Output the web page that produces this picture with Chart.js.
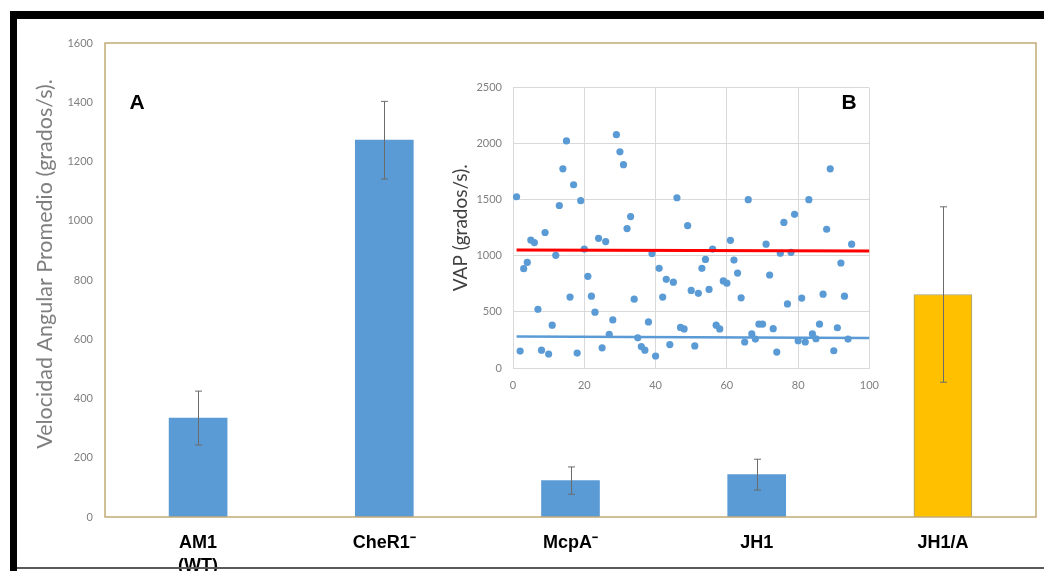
<!DOCTYPE html>
<html>
<head>
<meta charset="utf-8">
<script src="https://cdn.jsdelivr.net/npm/chart.js@4.4.1/dist/chart.umd.min.js"></script>
<style>
  body { margin: 0; background: #fff; }
  #wrap { position: relative; width: 1044px; height: 571px; overflow: hidden; background: #fff; }
  canvas { position: absolute; }
  .frame { position: absolute; background: #000; }
</style>
</head>
<body>
<div id="wrap">
  <canvas id="barChart" width="1044" height="571" style="left:0;top:0"></canvas>
  <canvas id="vapChart" width="450" height="330" style="left:440px;top:70px"></canvas>
  <div class="frame" style="left:10px;top:11px;width:1034px;height:8px"></div>
  <div class="frame" style="left:10px;top:11px;width:7px;height:560px"></div>
  <div style="position:absolute;left:17px;top:567px;width:1027px;height:2px;background:#5a5a5a"></div>
</div>
<script>
// panel A: mean angular velocity per strain
const strains = [['AM1', '(WT)'], 'CheR1⁻', 'McpA⁻', 'JH1', 'JH1/A'];
const meanVelocity = [334, 1272, 123, 143, 751];
const velocityError = [91, 131, 46, 52, 296];
const barColors = ['#5b9bd5', '#5b9bd5', '#5b9bd5', '#5b9bd5', '#ffc000'];
const velocityTicks = [0, 200, 400, 600, 800, 1000, 1200, 1400, 1600];

// panel B: VAP of single cells
const vapValues = [
  1527, 151, 886, 941, 1141, 1118, 524, 159, 1208, 125,
  382, 1005, 1449, 1776, 2025, 632, 1634, 133, 1492, 1060,
  817, 640, 498, 1156, 180, 1127, 301, 429, 2080, 1927,
  1813, 1243, 1350, 614, 269, 191, 159, 411, 1020, 107,
  889, 632, 791, 209, 765, 1518, 362, 348, 1269, 692,
  197, 666, 889, 968, 701, 1060, 382, 348, 776, 756,
  1138, 962, 846, 626, 232, 1501, 304, 258, 391, 391,
  1104, 829, 351, 142, 1023, 1298, 571, 1031, 1370, 243,
  623, 232, 1501, 304, 261, 391, 658, 1237, 1776, 154,
  359, 936, 640, 258, 1104
];
const trendX = [1, 100];
const redTrend = [1052, 1043];
const blueTrend = [281, 267];
const vapTicksY = [0, 500, 1000, 1500, 2000, 2500];
const vapTicksX = [0, 20, 40, 60, 80, 100];

const plainTick = v => String(v);

const errorBars = {
  id: 'errorBars',
  afterDatasetsDraw(chart) {
    const ctx = chart.ctx;
    const y = chart.scales.y;
    chart.getDatasetMeta(0).data.forEach((bar, i) => {
      const top = y.getPixelForValue(meanVelocity[i] + velocityError[i]);
      const bot = y.getPixelForValue(meanVelocity[i] - velocityError[i]);
      const x = Math.round(bar.x) + 0.5;
      ctx.save();
      ctx.strokeStyle = '#6b6b6b';
      ctx.lineWidth = 1;
      ctx.beginPath();
      ctx.moveTo(x, top); ctx.lineTo(x, bot);
      ctx.moveTo(x - 3.5, top); ctx.lineTo(x + 3.5, top);
      ctx.moveTo(x - 3.5, bot); ctx.lineTo(x + 3.5, bot);
      ctx.stroke();
      ctx.restore();
    });
  }
};

const panelA = {
  id: 'panelA',
  afterDraw(chart) {
    const ctx = chart.ctx;
    const a = chart.chartArea;
    ctx.save();
    ctx.strokeStyle = '#c2ab74';
    ctx.lineWidth = 1.5;
    ctx.strokeRect(a.left, a.top, a.right - a.left, a.bottom - a.top);
    ctx.fillStyle = '#000';
    ctx.font = 'bold 21px "Liberation Sans", Arial';
    ctx.textAlign = 'center';
    ctx.textBaseline = 'middle';
    ctx.fillText('A', 137, 103);
    ctx.translate(45, 264);
    ctx.rotate(-Math.PI / 2);
    ctx.fillStyle = '#7f7f7f';
    ctx.font = '21.5px Lato, "Open Sans", sans-serif';
    ctx.fillText('Velocidad Angular Promedio (grados/s).', 0, 0);
    ctx.restore();
  }
};

new Chart(document.getElementById('barChart'), {
  type: 'bar',
  data: {
    labels: strains,
    datasets: [{
      data: meanVelocity,
      backgroundColor: barColors,
      borderColor: ['#5b9bd5', '#5b9bd5', '#5b9bd5', '#5b9bd5', '#a3a07f'],
      borderWidth: [0, 0, 0, 0, 1],
      barThickness: 58
    }]
  },
  options: {
    responsive: false,
    devicePixelRatio: 1,
    animation: false,
    layout: { padding: { left: 0, top: 43, right: 8, bottom: 0 } },
    plugins: { legend: { display: false }, tooltip: { enabled: false } },
    scales: {
      x: {
        grid: { display: false, drawTicks: false },
        border: { display: false },
        afterFit: s => { s.height = 54; },
        ticks: {
          color: '#000',
          padding: 14,
          maxRotation: 0,
          autoSkip: false,
          font: { family: '"Liberation Sans", Arial', size: 18, weight: 'bold', lineHeight: 1.3 }
        }
      },
      y: {
        min: 0,
        max: 1600,
        afterBuildTicks: s => { s.ticks = velocityTicks.map(v => ({ value: v })); },
        afterFit: s => { s.width = 105; },
        grid: { display: false, drawTicks: false },
        border: { display: false },
        ticks: {
          color: '#7f7f7f',
          padding: 12,
          callback: plainTick,
          font: { family: 'Lato, "Open Sans", sans-serif', size: 11 }
        }
      }
    }
  },
  plugins: [errorBars, panelA]
});

const panelB = {
  id: 'panelB',
  afterDraw(chart) {
    const ctx = chart.ctx;
    ctx.save();
    ctx.fillStyle = '#000';
    ctx.font = 'bold 21px "Liberation Sans", Arial';
    ctx.textAlign = 'center';
    ctx.textBaseline = 'middle';
    ctx.fillText('B', 409, 33);
    ctx.restore();
  }
};

new Chart(document.getElementById('vapChart'), {
  type: 'scatter',
  data: {
    datasets: [
      {
        type: 'line',
        data: trendX.map((x, i) => ({ x, y: redTrend[i] })),
        borderColor: '#ff0000',
        borderWidth: 3,
        pointRadius: 0
      },
      {
        type: 'line',
        data: trendX.map((x, i) => ({ x, y: blueTrend[i] })),
        borderColor: '#5b9bd5',
        borderWidth: 2.5,
        pointRadius: 0
      },
      {
        data: vapValues.map((v, i) => ({ x: i + 1, y: v })),
        backgroundColor: '#5b9bd5',
        borderWidth: 0,
        pointRadius: 3.6
      }
    ]
  },
  options: {
    responsive: false,
    devicePixelRatio: 1,
    animation: false,
    layout: { padding: { left: 0, top: 11, right: 9, bottom: 0 } },
    plugins: { legend: { display: false }, tooltip: { enabled: false } },
    scales: {
      x: {
        type: 'linear',
        min: 0,
        max: 100,
        afterBuildTicks: s => { s.ticks = vapTicksX.map(v => ({ value: v })); },
        afterFit: s => { s.height = 32; },
        grid: { color: '#d9d9d9', drawTicks: false },
        border: { color: '#d9d9d9' },
        ticks: {
          color: '#7f7f7f',
          padding: 11,
          callback: plainTick,
          font: { family: 'Lato, "Open Sans", sans-serif', size: 11 }
        }
      },
      y: {
        min: 0,
        max: 2500,
        afterBuildTicks: s => { s.ticks = vapTicksY.map(v => ({ value: v })); },
        afterFit: s => { s.width = 73; },
        grid: { color: '#d9d9d9', drawTicks: false },
        border: { color: '#d9d9d9' },
        ticks: {
          color: '#7f7f7f',
          padding: 11,
          callback: plainTick,
          font: { family: 'Lato, "Open Sans", sans-serif', size: 11 }
        },
        title: {
          display: true,
          text: 'VAP (grados/s).',
          color: '#404040',
          padding: { top: 9, bottom: 0 },
          font: { family: 'Lato, "Open Sans", sans-serif', size: 19 }
        }
      }
    }
  },
  plugins: [panelB]
});
</script>
</body>
</html>
